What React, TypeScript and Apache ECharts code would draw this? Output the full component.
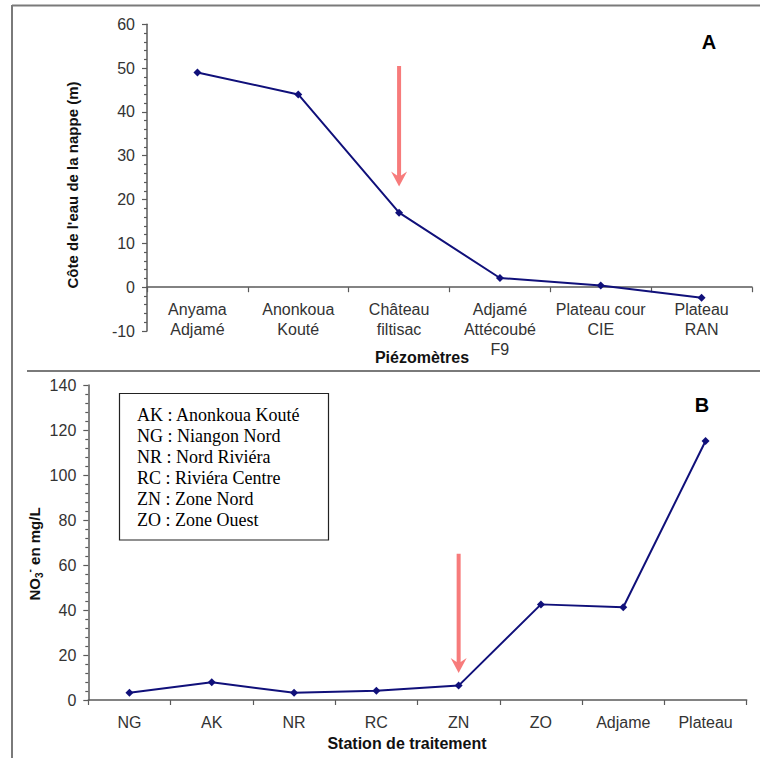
import React, { useEffect, useRef } from 'react';
import * as echarts from 'echarts';

// Panel A : piézomètres
const piezometres = [
  'Anyama\nAdjamé',
  'Anonkoua\nKouté',
  'Château\nfiltisac',
  'Adjamé\nAttécoubé\nF9',
  'Plateau cour\nCIE',
  'Plateau\nRAN',
];
const coteNappe = [49, 44, 17, 2.1, 0.4, -2.4];

// Panel B : stations de traitement
const stations = ['NG', 'AK', 'NR', 'RC', 'ZN', 'ZO', 'Adjame', 'Plateau'];
const nitrates = [3.2, 7.9, 3.2, 4.1, 6.4, 42.5, 41.2, 115.1];

const legendLines = [
  'AK : Anonkoua Kouté',
  'NG : Niangon Nord',
  'NR : Nord Riviéra',
  'RC : Riviéra Centre',
  'ZN : Zone Nord',
  'ZO : Zone Ouest',
];

// arrows (category index, value at arrow top, value at arrow tip)
const arrowA = { index: 2, from: 50.5, to: 23 };
const arrowB = { index: 4, from: 65, to: 12 };

const SANS = 'Liberation Sans, Arial, sans-serif';
const SERIF = 'Liberation Serif, Times New Roman, serif';
const LINE_COLOR = '#10107a';
const AXIS_COLOR = '#5a5a5a';
const ARROW_COLOR = '#f77b7b';
const BORDER = '#7a7a7a';

function arrowPolygon(x: number, yTop: number, yTip: number) {
  return {
    type: 'polygon',
    shape: {
      points: [
        [x - 2, yTop],
        [x + 2, yTop],
        [x + 2, yTip - 11],
        [x + 8, yTip - 15],
        [x, yTip],
        [x - 8, yTip - 15],
        [x - 2, yTip - 11],
      ],
    },
    style: { fill: ARROW_COLOR },
    z: 10,
  };
}

export default function App() {
  const ref = useRef<HTMLDivElement>(null);

  useEffect(() => {
    if (!ref.current) return;
    const chart = echarts.init(ref.current, null, { renderer: 'svg' });

    const axisLine = { show: true, onZero: false, lineStyle: { color: AXIS_COLOR, width: 1.5 } };
    const tickStyle = { color: AXIS_COLOR, width: 1.2 };
    const catLabel = {
      interval: 0,
      margin: 12,
      fontSize: 16,
      lineHeight: 20,
      color: '#333',
      fontFamily: SANS,
    };
    const valLabel = {
      margin: 12,
      fontSize: 16,
      color: '#333',
      fontFamily: SANS,
    };

    const option: any = {
      animation: false,
      backgroundColor: '#fff',
      grid: [
        // panel A plotting area (y from 60 to -10)
        { left: 147, right: 8, top: 24.3, height: 306.7 },
        // panel B
        { left: 88.3, right: 13.3, top: 385, height: 315 },
        // panel A category axis placed at y = 0
        { left: 147, right: 8, top: 24.3, height: 262.9 },
      ],
      xAxis: [
        {
          type: 'category',
          gridIndex: 0,
          data: piezometres,
          boundaryGap: true,
          show: false,
        },
        {
          type: 'category',
          gridIndex: 1,
          data: stations,
          boundaryGap: true,
          axisLine,
          axisTick: { show: true, length: 5, alignWithLabel: false, lineStyle: tickStyle },
          axisLabel: catLabel,
          splitLine: { show: false },
        },
        {
          type: 'category',
          gridIndex: 2,
          data: piezometres,
          boundaryGap: true,
          axisLine,
          axisTick: { show: true, length: 5, alignWithLabel: false, lineStyle: tickStyle },
          axisLabel: catLabel,
          splitLine: { show: false },
        },
      ],
      yAxis: [
        {
          type: 'value',
          gridIndex: 0,
          min: -10,
          max: 60,
          interval: 10,
          axisLine: { show: true, lineStyle: { color: AXIS_COLOR, width: 1.5 } },
          axisTick: { show: true, length: 5, lineStyle: tickStyle },
          minorTick: { show: true, splitNumber: 5, length: 3, lineStyle: tickStyle },
          splitLine: { show: false },
          axisLabel: valLabel,
        },
        {
          type: 'value',
          gridIndex: 1,
          min: 0,
          max: 140,
          interval: 20,
          axisLine: { show: true, lineStyle: { color: AXIS_COLOR, width: 1.5 } },
          axisTick: { show: true, length: 5, lineStyle: tickStyle },
          minorTick: { show: true, splitNumber: 5, length: 3, lineStyle: tickStyle },
          splitLine: { show: false },
          axisLabel: valLabel,
        },
        {
          type: 'value',
          gridIndex: 2,
          min: 0,
          max: 60,
          show: false,
        },
      ],
      series: [
        {
          type: 'line',
          xAxisIndex: 0,
          yAxisIndex: 0,
          data: coteNappe,
          symbol: 'diamond',
          symbolSize: 8,
          lineStyle: { color: LINE_COLOR, width: 2 },
          itemStyle: { color: LINE_COLOR },
          z: 5,
        },
        {
          type: 'line',
          xAxisIndex: 1,
          yAxisIndex: 1,
          data: nitrates,
          symbol: 'diamond',
          symbolSize: 8,
          lineStyle: { color: LINE_COLOR, width: 2 },
          itemStyle: { color: LINE_COLOR },
          z: 5,
        },
      ],
    };
    chart.setOption(option);

    const pA1 = chart.convertToPixel({ gridIndex: 0 } as any, [arrowA.index, arrowA.from]) as number[];
    const pA2 = chart.convertToPixel({ gridIndex: 0 } as any, [arrowA.index, arrowA.to]) as number[];
    const pB1 = chart.convertToPixel({ gridIndex: 1 } as any, [arrowB.index, arrowB.from]) as number[];
    const pB2 = chart.convertToPixel({ gridIndex: 1 } as any, [arrowB.index, arrowB.to]) as number[];

    const graphic: any[] = [
      // frame lines
      { type: 'line', shape: { x1: 12, y1: 5.5, x2: 760, y2: 5.5 }, style: { stroke: BORDER, lineWidth: 2 } },
      { type: 'line', shape: { x1: 12, y1: 5, x2: 12, y2: 758 }, style: { stroke: BORDER, lineWidth: 2 } },
      { type: 'line', shape: { x1: 27, y1: 371, x2: 760, y2: 371 }, style: { stroke: BORDER, lineWidth: 2 } },
      // panel letters
      {
        type: 'text', x: 709, y: 42,
        style: { text: 'A', font: 'bold 20px ' + SANS, fill: '#000', textAlign: 'center', textVerticalAlign: 'middle' },
      },
      {
        type: 'text', x: 702, y: 405,
        style: { text: 'B', font: 'bold 20px ' + SANS, fill: '#000', textAlign: 'center', textVerticalAlign: 'middle' },
      },
      // axis titles
      {
        type: 'text', x: 72, y: 185, rotation: Math.PI / 2,
        style: { text: "Côte de l'eau de la nappe (m)", font: 'bold 15px ' + SANS, fill: '#111', textAlign: 'center', textVerticalAlign: 'middle' },
      },
      {
        type: 'text', x: 422, y: 357,
        style: { text: 'Piézomètres', font: 'bold 16px ' + SANS, fill: '#111', textAlign: 'center', textVerticalAlign: 'middle' },
      },
      {
        type: 'text', x: 407, y: 743,
        style: { text: 'Station de traitement', font: 'bold 16px ' + SANS, fill: '#111', textAlign: 'center', textVerticalAlign: 'middle' },
      },
      {
        type: 'text', x: 34, y: 554, rotation: Math.PI / 2,
        style: {
          text: '{a|NO}{sub|3}{sup|-}{a| en mg/L}',
          textAlign: 'center',
          textVerticalAlign: 'middle',
          rich: {
            a: { fontFamily: SANS, fontWeight: 'bold', fontSize: 15, lineHeight: 20, fill: '#111', color: '#111' },
            sub: { fontFamily: SANS, fontWeight: 'bold', fontSize: 10, lineHeight: 12, verticalAlign: 'bottom', fill: '#111', color: '#111' },
            sup: { fontFamily: SANS, fontWeight: 'bold', fontSize: 10, lineHeight: 12, verticalAlign: 'top', fill: '#111', color: '#111' },
          },
        },
      },
      // legend box
      {
        type: 'rect',
        shape: { x: 119.5, y: 393.5, width: 209, height: 146.5 },
        style: { fill: '#fff', stroke: '#222', lineWidth: 1.2 },
        z: 5,
      },
      {
        type: 'text', x: 137, y: 404.5, z: 6,
        style: {
          text: legendLines.join('\n'),
          font: '18px ' + SERIF,
          lineHeight: 21,
          fill: '#000',
          textAlign: 'left',
          textVerticalAlign: 'top',
        },
      },
      arrowPolygon(pA1[0], pA1[1], pA2[1]),
      arrowPolygon(pB1[0], pB1[1], pB2[1]),
    ];

    chart.setOption({ graphic });

    return () => chart.dispose();
  }, []);

  return (
    <div
      ref={ref}
      style={{ position: 'fixed', left: 0, top: 0, width: 760, height: 758, background: '#fff' }}
    />
  );
}
